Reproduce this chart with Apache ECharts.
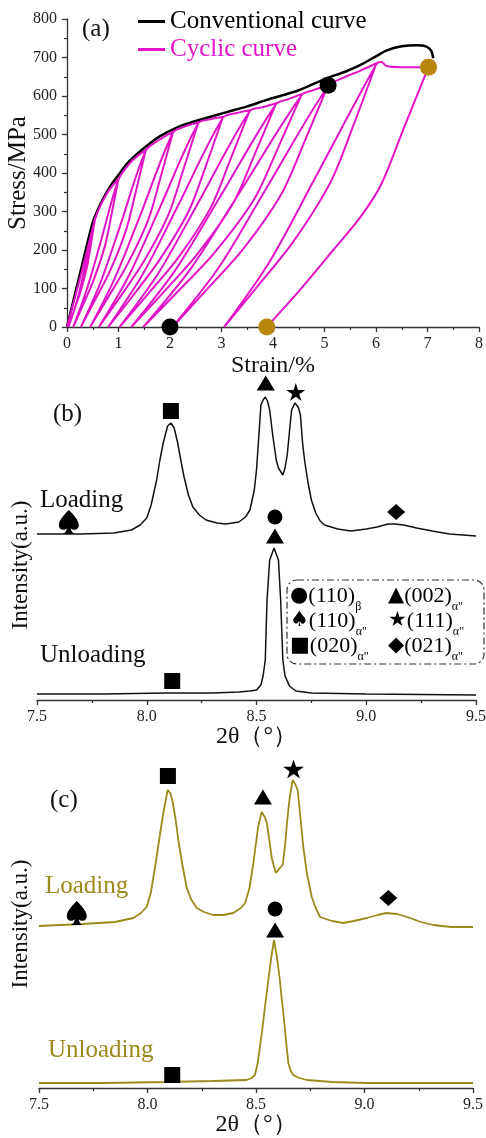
<!DOCTYPE html>
<html><head><meta charset="utf-8">
<script src="https://cdn.jsdelivr.net/npm/echarts@6/dist/echarts.min.js"></script>
<style>html,body{margin:0;padding:0;background:#fff}#c{width:486px;height:1138px}</style>
</head><body><div id="c"></div>
<script>
// ---------- Panel (a): stress-strain ----------
const conventionalCurve = [[0,0],[0.3,165],[0.5,272],[0.6,305],[0.7,333],[0.85,368],[1.0,395],[1.15,422],[1.35,448],[1.6,476],[1.8,495],[2.1,516],[2.45,533],[3.1,558],[3.5,573],[3.88,590],[4.5,615],[5.04,646],[5.4,663],[5.69,680],[6.0,703],[6.2,718],[6.5,729],[6.79,732],[6.97,729],[7.07,718],[7.11,698]];
const cyclicCurve = [
 [0,0],[0.28,140],[0.55,285],
 [0.47,219],[0.39,157],[0.26,91],[0.13,40],[0.03,0],
 [0.2,71],[0.36,162],[0.55,282],[0.78,348],[1.0,385],
 [0.87,296],[0.74,212],[0.52,123],[0.30,54],[0.12,0],
 [0.38,96],[0.65,219],[1.0,383],[1.25,430],[1.53,460],
 [1.34,354],[1.15,253],[0.84,147],[0.52,64],[0.27,0],
 [0.65,115],[1.03,262],[1.53,458],[1.8,487],[2.06,507],
 [1.82,390],[1.58,279],[1.17,162],[0.77,71],[0.45,0],
 [0.93,127],[1.42,289],[2.06,505],[2.3,521],[2.55,531],
 [2.26,409],[1.97,292],[1.49,170],[1.01,74],[0.62,0],
 [1.2,133],[1.78,303],[2.55,529],[2.8,540],[3.03,546],
 [2.70,420],[2.36,300],[1.80,175],[1.25,76],[0.8,0],
 [1.47,137],[2.14,311],[3.03,544],[3.3,556],[3.55,563],
 [3.17,434],[2.79,310],[2.16,180],[1.53,79],[1.02,0],
 [1.78,141],[2.54,321],[3.55,561],[3.8,571],[4.06,581],
 [3.64,447],[3.22,320],[2.51,186],[1.81,81],[1.25,0],
 [2.09,145],[2.94,331],[4.06,579],[4.3,592],[4.56,605],
 [4.10,466],[3.64,333],[2.87,194],[2.10,85],[1.48,0],
 [2.40,151],[3.33,345],[4.56,603],[4.8,616],[5.07,628],
 [4.62,484],[4.16,345],[3.41,201],[2.65,88],[2.05,0],
 [2.96,157],[3.86,358],[5.07,626],[5.36,647],[5.7,666],[6.01,685],
 [5.57,527],[5.12,377],[4.38,219],[3.64,96],[3.05,0],
 [3.94,171],[4.83,390],[6.01,683],[6.11,688],[6.2,678],[6.5,675],[7.02,675],
 [6.55,520],[6.1,370],[5.7,286],[5.17,200],[4.52,96],[4.0,18],[3.88,0]
];
const pointsAt5pct = [[5.07,628],[2.0,0]];
const pointsAt7pct = [[7.02,675],[3.88,0]];

// ---------- Panel (b): XRD, black ----------
const bLoading = [[7.5,166],[7.7,166],[7.85,167],[7.93,170],[7.97,175],[8.0,182],[8.02,195],[8.045,220],[8.06,240],[8.075,257],[8.095,274],[8.11,277],[8.125,272],[8.14,258],[8.155,240],[8.17,223],[8.19,205],[8.21,193],[8.24,185],[8.27,180],[8.32,177],[8.36,176],[8.42,178],[8.45,183],[8.47,190],[8.49,210],[8.5,230],[8.51,262],[8.52,295],[8.53,300],[8.54,303],[8.55,299],[8.56,290],[8.575,263],[8.59,240],[8.60,232],[8.62,225],[8.63,232],[8.64,245],[8.65,268],[8.66,290],[8.675,297],[8.69,293],[8.70,285],[8.71,257],[8.72,238],[8.735,217],[8.75,200],[8.77,187],[8.79,179],[8.81,175],[8.87,171],[8.93,169],[9.0,171],[9.05,173],[9.1,176],[9.13,176],[9.17,175],[9.23,172],[9.3,169],[9.38,166],[9.5,164]];
const bUnloading = [[7.5,6],[7.8,6],[8.09,7],[8.3,7],[8.42,8],[8.47,9],[8.5,10],[8.52,15],[8.53,24],[8.54,40],[8.548,100],[8.56,140],[8.58,152],[8.6,140],[8.61,100],[8.62,40],[8.63,24],[8.65,14],[8.68,9],[8.75,7],[9.0,6],[9.5,5]];
const bBeta110 = [[8.584,183]];
const bAlpha002 = [[8.542,317],[8.584,164]];
const bAlpha110 = [[7.645,178]];
const bAlpha111 = [[8.679,308]];
const bAlpha020 = [[8.11,289],[8.116,19]];
const bAlpha021 = [[9.136,188]];

// ---------- Panel (c): XRD, olive ----------
const cLoading = [[7.5,162],[7.7,164],[7.85,166],[7.935,170],[7.97,175],[7.996,181],[8.015,195],[8.035,221],[8.055,250],[8.073,275],[8.093,298],[8.105,295],[8.116,286],[8.13,268],[8.142,248],[8.16,224],[8.18,201],[8.2,189],[8.227,180],[8.26,176],[8.303,173],[8.35,173],[8.395,175],[8.43,180],[8.45,185],[8.47,200],[8.488,225],[8.5,245],[8.51,261],[8.526,276],[8.54,271],[8.55,265],[8.56,250],[8.572,231],[8.582,222],[8.592,215],[8.61,220],[8.623,223],[8.635,245],[8.644,268],[8.655,290],[8.669,308],[8.68,304],[8.692,298],[8.705,270],[8.718,241],[8.735,214],[8.757,191],[8.775,180],[8.795,171],[8.85,167],[8.902,165],[8.95,167],[9.01,170],[9.06,173],[9.1,175],[9.15,174],[9.21,170],[9.26,166],[9.317,163],[9.4,161],[9.5,161]];
const cUnloading = [[7.5,5],[7.8,5],[8.09,6],[8.3,7],[8.457,8],[8.48,10],[8.495,13],[8.508,25],[8.518,41],[8.53,60],[8.541,81],[8.557,108],[8.57,130],[8.583,148],[8.597,130],[8.61,108],[8.618,90],[8.626,75],[8.638,48],[8.649,25],[8.66,17],[8.672,13],[8.7,10],[8.734,8],[8.85,6],[9.01,5],[9.5,5]];
const cBeta110 = [[8.588,179]];
const cAlpha002 = [[8.532,291],[8.588,158]];
const cAlpha110 = [[7.674,175]];
const cAlpha111 = [[8.673,319]];
const cAlpha020 = [[8.094,312],[8.114,13]];
const cAlpha021 = [[9.11,190]];

const legendRows = [
  ['●', '(110)', 'β', '▲', '(002)', 'α"'],
  ['♠', '(110)', 'α"', '★', '(111)', 'α"'],
  ['■', '(020)', 'α"', '◆', '(021)', 'α"']
];

// ---------- styling ----------
const FONT = '"Liberation Serif","DejaVu Serif",serif';
const MAG = '#e214c8', OLIVE = '#9a8a1a', BROWN = '#b8860b', AX = '#333';
const SPADE = 'path://M50,0 C50,0 0,38 0,62 C0,80 22,90 40,76 C38,88 32,95 22,100 L78,100 C68,95 62,88 60,76 C78,90 100,80 100,62 C100,38 50,0 50,0 Z';
const STAR = 'path://M50,0 L61,35 L98,35 L68,57 L79,91 L50,70 L21,91 L32,57 L2,35 L39,35 Z';

function xAx(grid, min, max, interval, name, fmt, gap) {
  return {gridIndex:grid, type:'value', min, max, interval, name, nameLocation:'middle', nameGap:gap, nameMoveOverlap:false,
    nameTextStyle:{fontFamily:FONT, fontSize:24, color:'#111'},
    axisLine:{show:true, onZero:false, lineStyle:{color:AX, width:1.3}},
    axisTick:{show:true, inside:false, length:5, lineStyle:{color:AX, width:1.3}},
    minorTick:{show:true, splitNumber:2, length:3, lineStyle:{color:AX, width:1.2}},
    axisLabel:{show:true, fontFamily:FONT, fontSize:16, color:'#222', margin:9, formatter:fmt, hideOverlap:false},
    splitLine:{show:false}, minorSplitLine:{show:false}};
}
function hiddenY(grid, max, gap, pad) {
  return {gridIndex:grid, type:'value', min:0, max, name:'Intensity(a.u.)', nameLocation:'middle', nameGap:gap, nameMoveOverlap:false,
    nameTextStyle:{fontFamily:FONT, fontSize:23, color:'#111', padding:pad},
    axisLine:{show:false}, axisTick:{show:false}, axisLabel:{show:false}, splitLine:{show:false}};
}
function marks(data, symbol, size, gi) {
  return {type:'scatter', xAxisIndex:gi, yAxisIndex:gi, data, symbol, symbolSize:size, itemStyle:{color:'#000', opacity:1}, z:6, silent:true};
}
function curve(name, data, color, width, gi, smooth) {
  return {type:'line', name, xAxisIndex:gi, yAxisIndex:gi, data, symbol:'none', smooth, lineStyle:{color, width}, itemStyle:{color}, z:3, silent:true};
}
function lbl(text, x, y, color, size) {
  return {type:'text', x, y, style:{text, font:size+'px '+FONT, fill:color, verticalAlign:'middle', align:'left'}};
}

const rich = {
  g:{fontFamily:'"DejaVu Sans",sans-serif', fontSize:21, lineHeight:24, verticalAlign:'top', fill:'#000'},
  m:{fontFamily:FONT, fontSize:22, lineHeight:24, verticalAlign:'top', fill:'#000'},
  s:{fontFamily:FONT, fontSize:12, lineHeight:12, padding:[16,0,0,0], verticalAlign:'top', fill:'#000'}
};
const legendTexts = [];
legendRows.forEach((r, i) => {
  const y = 597 + i * 25;
  legendTexts.push({type:'text', x:290, y, style:{text:'{g|'+r[0]+'}{m|'+r[1]+'}{s|'+r[2]+'}', rich, verticalAlign:'middle'}});
  legendTexts.push({type:'text', x:388, y, style:{text:'{g|'+r[3]+'}{m|'+r[4]+'}{s|'+r[5]+'}', rich, verticalAlign:'middle'}});
});

const option = {
  animation:false,
  backgroundColor:'#fff',
  grid:[
    {left:67, top:19, width:412, height:308, outerBoundsMode:'none'},
    {left:37, top:380, width:439, height:320, outerBoundsMode:'none'},
    {left:39, top:760, width:434, height:328, outerBoundsMode:'none'}
  ],
  legend:{orient:'vertical', left:133, top:4, icon:'rect', itemWidth:27, itemHeight:3, itemGap:3, selectedMode:false,
    textStyle:{fontFamily:FONT, fontSize:25},
    data:[{name:'Conventional curve', textStyle:{color:'#000'}}, {name:'Cyclic curve', textStyle:{color:MAG}}]},
  xAxis:[
    xAx(0, 0, 8, 1, 'Strain/%', v => String(v), 27),
    xAx(1, 7.5, 9.5, 0.5, '2θ（°）', v => v.toFixed(1), 25),
    xAx(2, 7.5, 9.5, 0.5, '2θ（°）', v => v.toFixed(1), 25)
  ],
  yAxis:[
    {gridIndex:0, type:'value', min:0, max:800, interval:100, name:'Stress/MPa', nameLocation:'middle', nameGap:36, nameMoveOverlap:false,
      nameTextStyle:{fontFamily:FONT, fontSize:25, color:'#111'},
      axisLine:{show:true, onZero:false, lineStyle:{color:AX, width:1.3}},
      axisTick:{show:true, inside:false, length:5, lineStyle:{color:AX, width:1.3}},
      minorTick:{show:true, splitNumber:2, length:3, lineStyle:{color:AX, width:1.2}},
      axisLabel:{show:true, fontFamily:FONT, fontSize:16, color:'#222', margin:10},
      splitLine:{show:false}, minorSplitLine:{show:false}},
    hiddenY(1, 320, 5, [0,50,0,0]),
    hiddenY(2, 328, 7, [0,0,0,0])
  ],
  series:[
    curve('Conventional curve', conventionalCurve, '#000', 2.5, 0, 0.3),
    curve('Cyclic curve', cyclicCurve, MAG, 2, 0, 0.3),
    {type:'scatter', xAxisIndex:0, yAxisIndex:0, data:pointsAt5pct, symbol:'circle', symbolSize:17, itemStyle:{color:'#000', opacity:1}, z:6, silent:true},
    {type:'scatter', xAxisIndex:0, yAxisIndex:0, data:pointsAt7pct, symbol:'circle', symbolSize:17, itemStyle:{color:BROWN, opacity:1}, z:6, silent:true},

    curve('b-loading', bLoading, '#111', 1.5, 1, false),
    curve('b-unloading', bUnloading, '#111', 1.5, 1, false),
    marks(bBeta110, 'circle', 15, 1),
    marks(bAlpha002, 'triangle', [18,15], 1),
    marks(bAlpha110, SPADE, [20,24], 1),
    marks(bAlpha111, STAR, [19,18], 1),
    marks(bAlpha020, 'rect', [16,16], 1),
    marks(bAlpha021, 'diamond', [18,16], 1),

    curve('c-loading', cLoading, OLIVE, 1.8, 2, false),
    curve('c-unloading', cUnloading, OLIVE, 1.8, 2, false),
    marks(cBeta110, 'circle', 15, 2),
    marks(cAlpha002, 'triangle', [18,15], 2),
    marks(cAlpha110, SPADE, [20,24], 2),
    marks(cAlpha111, STAR, [21,19], 2),
    marks(cAlpha020, 'rect', [16,16], 2),
    marks(cAlpha021, 'diamond', [18,16], 2)
  ],
  graphic:[
    lbl('(a)', 82, 29, '#111', 25),
    lbl('(b)', 53, 414, '#111', 25),
    lbl('(c)', 50, 800, '#111', 25),
    lbl('Loading', 40, 500, '#111', 25),
    lbl('Unloading', 40, 655, '#111', 25),
    lbl('Loading', 45, 886, OLIVE, 25),
    lbl('Unloading', 48, 1050, OLIVE, 25),
    {type:'rect', shape:{x:287, y:580, width:197, height:84, r:10}, style:{fill:'none', stroke:'#333', lineWidth:1.2, lineDash:[7,3,2,3]}},
    ...legendTexts
  ]
};
const chart = echarts.init(document.getElementById('c'), null, {renderer:'canvas'});
chart.setOption(option);
</script></body></html>
